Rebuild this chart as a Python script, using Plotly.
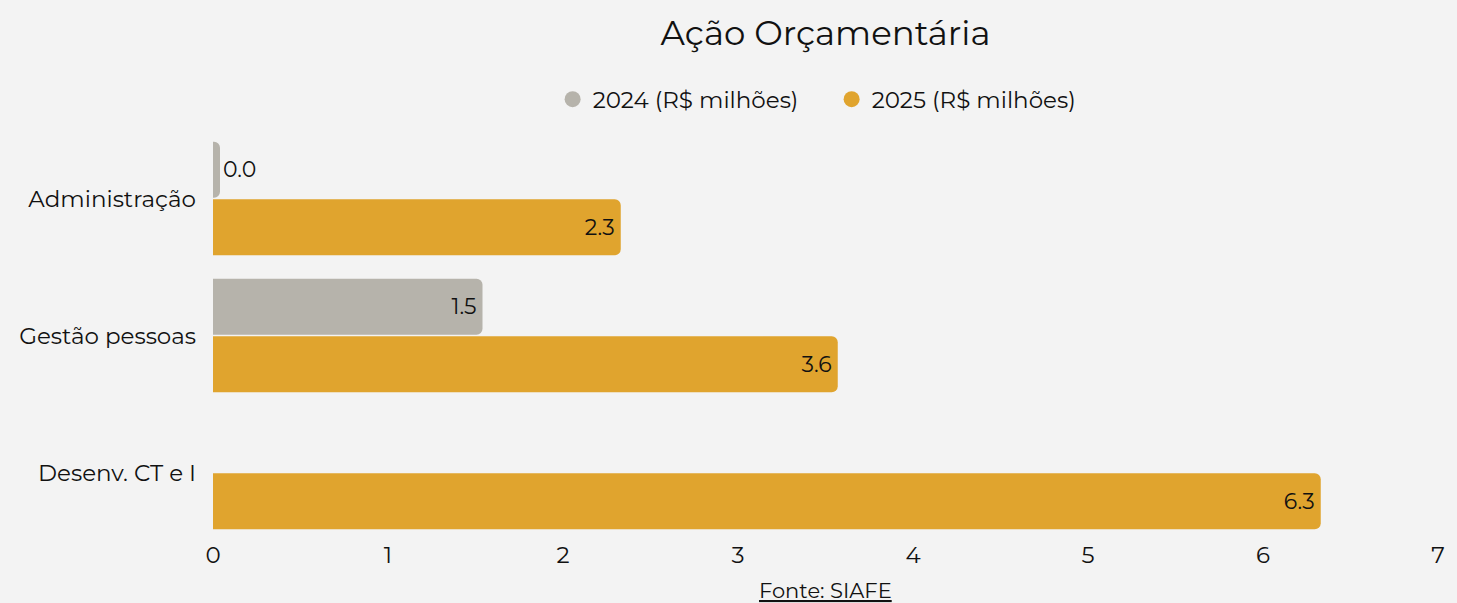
import plotly.graph_objects as go

categories = ["Administração", "Gestão pessoas", "Desenv. CT e I"]
values_2024 = [0.04, 1.54, None]
values_2025 = [2.33, 3.57, 6.33]
series_names = ["2024 (R$ milhões)", "2025 (R$ milhões)"]
x_ticks = [0, 1, 2, 3, 4, 5, 6, 7]

colors = ["#b6b3ab", "#e0a42e"]
font_family = "Montserrat, 'Open Sans', Lato, sans-serif"

fig = go.Figure()
for name, vals, col in zip(series_names, [values_2024, values_2025], colors):
    fig.add_trace(go.Bar(
        y=categories, x=vals, orientation="h", name=name,
        marker=dict(color=col, line=dict(width=0)),
        texttemplate="%{x:.1f}", textposition="auto",
        insidetextanchor="end",
        textfont=dict(color="#111111", size=22, family=font_family),
        showlegend=False, hoverinfo="skip",
    ))
    fig.add_trace(go.Scatter(
        x=[None], y=[None], mode="markers", name=name,
        marker=dict(color=col, size=22, symbol="circle"),
        showlegend=True,
    ))

fig.update_layout(
    width=1457, height=603,
    paper_bgcolor="#f3f3f3", plot_bgcolor="rgba(0,0,0,0)",
    barmode="group", bargap=0.16, bargroupgap=0.03,
    barcornerradius=6,
    margin=dict(l=213, r=19, t=130, b=62),
    font=dict(family=font_family, color="#111111", size=23),
    title=dict(text="Ação Orçamentária", x=0.5, xref="paper", y=0.945, yanchor="middle",
               font=dict(size=34, family=font_family, color="#111111")),
    legend=dict(orientation="h", x=0.505, xanchor="center", xref="paper", y=1.075, yanchor="middle",
                font=dict(size=23, family=font_family), itemwidth=30, entrywidth=234,
                bgcolor="rgba(0,0,0,0)"),
    uniformtext=dict(minsize=22, mode="show"),
)
fig.update_xaxes(range=[0, 7], tickvals=x_ticks, showgrid=False, zeroline=False, showline=False,
                 tickfont=dict(size=23), ticks="", ticklabelstandoff=-2)
fig.update_yaxes(autorange="reversed", showgrid=False, zeroline=False, showline=False,
                 tickfont=dict(size=23), ticks="", ticklabelstandoff=16)

fig.add_annotation(text="<u>Fonte: SIAFE</u>", x=0.5, xref="paper", y=-0.12, yref="paper",
                   yanchor="middle", showarrow=False, font=dict(size=21, family=font_family, color="#111111"))

fig.write_html("out.html", config={"displayModeBar": False})

with open("out.html", "r", encoding="utf-8") as f:
    html = f.read()
html = html.replace("<head>", "<head><style>html,body{margin:0;padding:0;background:#f3f3f3;overflow:hidden}</style>", 1)
with open("out.html", "w", encoding="utf-8") as f:
    f.write(html)
